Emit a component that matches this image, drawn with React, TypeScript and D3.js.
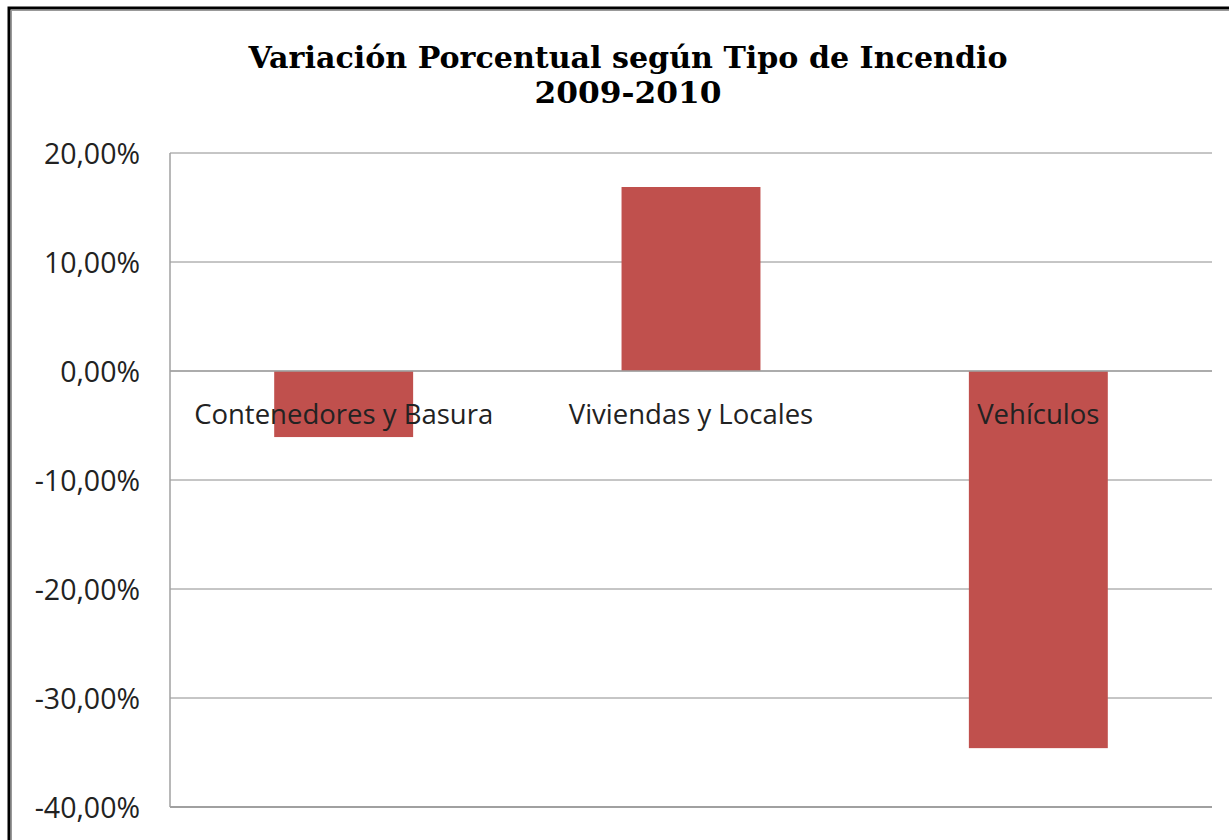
import React from "react";
import * as d3 from "d3";

const categories = ["Contenedores y Basura", "Viviendas y Locales", "Vehículos"];
const values = [-6.06, 16.88, -34.6];
const yTicks = [20, 10, 0, -10, -20, -30, -40];
const titleLines = ["Variación Porcentual según Tipo de Incendio", "2009-2010"];

const W = 1229;
const H = 840;
const plot = { left: 170, right: 1212, top: 153, bottom: 807 };

export default function App() {
  const y = d3.scaleLinear().domain([-40, 20]).range([plot.bottom, plot.top]);
  const x = d3
    .scaleBand<string>()
    .domain(categories)
    .range([plot.left, plot.right])
    .paddingInner(0.6)
    .paddingOuter(0.3);
  const fmt = (v: number) => v.toFixed(2).replace(".", ",") + "%";
  return (
    <svg
      width={W}
      height={H}
      style={{ position: "absolute", left: 0, top: 0, background: "#fff" }}
    >
      <rect x={0} y={0} width={W} height={H} fill="#fff" />
      <rect x={9} y={8} width={W + 20} height={H + 20} fill="none" stroke="#000" strokeWidth={3} />
      <rect x={11.5} y={10.5} width={W + 20} height={H + 20} fill="none" stroke="#999" strokeWidth={1} />
      {titleLines.map((t, i) => (
        <text
          key={i}
          x={628}
          y={68 + i * 35}
          textAnchor="middle"
          fontFamily="'DejaVu Serif', serif"
          fontWeight="bold"
          fontSize={i === 0 ? 29 : 30}
          textLength={i === 0 ? 759 : 187}
          lengthAdjust="spacingAndGlyphs"
          fill="#000"
        >
          {t}
        </text>
      ))}
      {yTicks.map((t) => (
        <g key={t}>
          <line
            x1={plot.left}
            x2={plot.right}
            y1={y(t)}
            y2={y(t)}
            stroke={t === -40 || t === 0 ? "#a0a0a0" : "#8c8c8c"}
            strokeWidth={t === -40 ? 2 : 1}
          />
          <text
            x={140}
            y={y(t) + 11}
            textAnchor="end"
            fontFamily="'Open Sans', sans-serif"
            fontSize={28.5}
            fill="#222"
          >
            {fmt(t)}
          </text>
        </g>
      ))}
      <line x1={plot.left} x2={plot.left} y1={plot.top} y2={plot.bottom} stroke="#a0a0a0" strokeWidth={1.5} />
      {categories.map((c, i) => {
        const v = values[i];
        return (
          <rect
            key={c}
            x={x(c)}
            width={x.bandwidth()}
            y={Math.min(y(v), y(0))}
            height={Math.abs(y(v) - y(0))}
            fill="#c0504d"
          />
        );
      })}
      <line x1={plot.left} x2={plot.right} y1={y(0)} y2={y(0)} stroke="#a0a0a0" strokeWidth={1.5} />
      {categories.map((c) => (
        <text
          key={c}
          x={(x(c) as number) + x.bandwidth() / 2}
          y={424}
          textAnchor="middle"
          fontFamily="'Open Sans', sans-serif"
          fontSize={27.5}
          fill="#222"
        >
          {c}
        </text>
      ))}
    </svg>
  );
}
